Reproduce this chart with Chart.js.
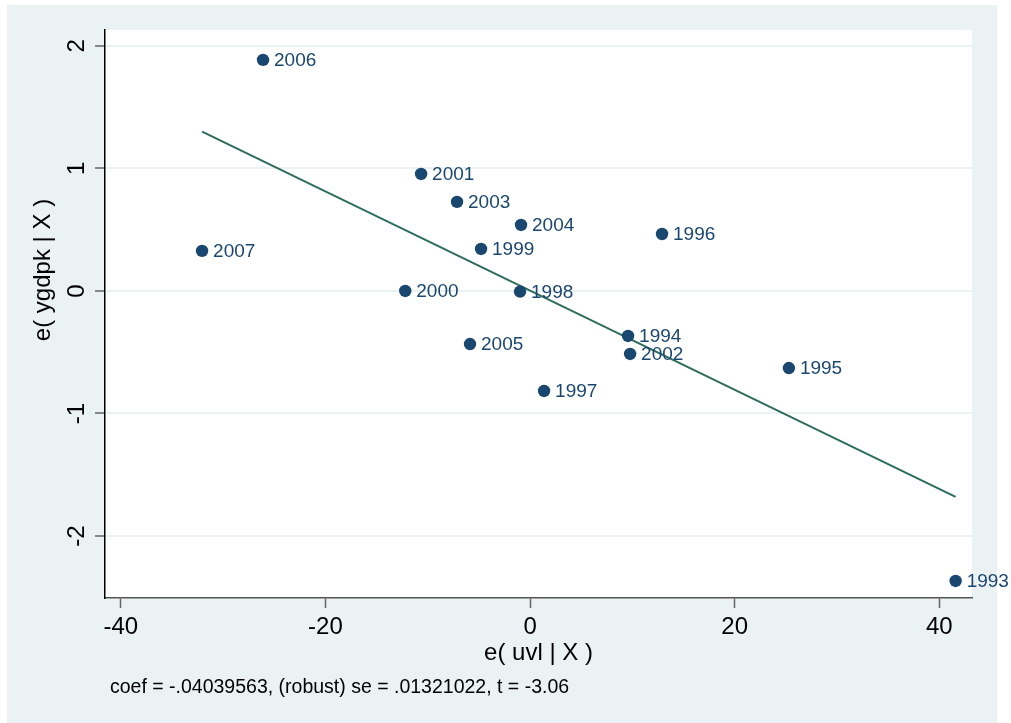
<!DOCTYPE html>
<html><head><meta charset="utf-8">
<script src="https://cdn.jsdelivr.net/npm/chart.js@4.4.1/dist/chart.umd.min.js"></script>
<style>html,body{margin:0;padding:0;background:#fff}#wrap{width:1011px;height:723px}</style>
</head><body><div id="wrap"><canvas id="c" width="1011" height="723"></canvas></div>
<script>
const years = ["2006","2001","2003","2004","1996","2007","1999","2000","1998","1994","2005","2002","1995","1997","1993"];
const xResid = [-26.1,-10.65,-7.14,-0.88,12.9,-32.06,-4.79,-12.2,-0.98,9.58,-5.87,9.78,25.3,1.37,41.6];
const yResid = [1.886,0.955,0.727,0.539,0.465,0.327,0.343,0.0,-0.005,-0.367,-0.433,-0.514,-0.629,-0.816,-2.367];
const fitX = [-32.06, 41.6];
const fitY = [1.30, -1.68];
const xTicks = [-40,-20,0,20,40];
const yTicks = [-2,-1,0,1,2];
const xTitle = "e( uvl | X )";
const yTitle = "e( ygdpk | X )";
const note = "coef = -.04039563, (robust) se = .01321022, t = -3.06";

const FONT = "'Liberation Sans', Arial, sans-serif";
const BG = "#eaf2f3";

const bgPlugin = {
  id:'bg',
  beforeDraw(chart){
    const ctx=chart.ctx, a=chart.chartArea;
    ctx.save();
    ctx.fillStyle='#fff'; ctx.fillRect(0,0,chart.width,chart.height);
    ctx.fillStyle=BG; ctx.fillRect(7,5,990,718);
    ctx.fillStyle='#fff'; ctx.fillRect(a.left,a.top,a.right-a.left,a.bottom-a.top);
    ctx.restore();
  },
  afterDraw(chart){
    const ctx=chart.ctx, ys=chart.scales.y, a=chart.chartArea;
    ctx.save();
    ctx.fillStyle='#000';
    ctx.font="24px "+FONT;
    ctx.textAlign='center'; ctx.textBaseline='middle';
    yTicks.forEach(v=>{
      const py=ys.getPixelForValue(v);
      ctx.save(); ctx.translate(77,py); ctx.rotate(-Math.PI/2); ctx.fillText(String(v),0,0); ctx.restore();
    });
    ctx.font="24px "+FONT;
    ctx.save(); ctx.translate(43,270); ctx.rotate(-Math.PI/2); ctx.fillText(yTitle,0,0); ctx.restore();
    ctx.fillText(xTitle,(a.left+a.right)/2,653);
    ctx.font="19.5px "+FONT; ctx.textAlign='left';
    ctx.fillText(note,110,688);
    ctx.restore();
  }
};

const labelPlugin = {
  id:'lbl',
  afterDatasetsDraw(chart){
    const ctx=chart.ctx, meta=chart.getDatasetMeta(1);
    ctx.save();
    ctx.fillStyle='#1a476f'; ctx.font="19px "+FONT;
    ctx.textAlign='left'; ctx.textBaseline='middle';
    meta.data.forEach((p,i)=>{ ctx.fillText(years[i],p.x+11,p.y+1); });
    ctx.restore();
  }
};

new Chart(document.getElementById('c'),{
  type:'scatter',
  data:{datasets:[
    {type:'line',data:fitX.map((x,i)=>({x,y:fitY[i]})),borderColor:'#2d6d5b',borderWidth:2,pointRadius:0,fill:false,order:1},
    {data:xResid.map((x,i)=>({x,y:yResid[i]})),backgroundColor:'#1a476f',borderColor:'#1a476f',pointRadius:6.2,borderWidth:0,order:0}
  ]},
  options:{
    responsive:false,animation:false,
    layout:{padding:{top:30,right:39,left:0,bottom:0}},
    plugins:{legend:{display:false},tooltip:{enabled:false}},
    scales:{
      x:{type:'linear',min:-41.55,max:43.2,
        afterBuildTicks(s){s.ticks=xTicks.map(v=>({value:v}));},
        afterFit(s){s.height=125;},
        ticks:{color:'#000',font:{size:24,family:FONT},padding:5,maxRotation:0},
        grid:{drawOnChartArea:false,tickLength:10,tickColor:'#666',tickWidth:1.5},
        border:{color:'#555',width:1.5}
      },
      y:{type:'linear',min:-2.506,max:2.13,
        afterBuildTicks(s){s.ticks=yTicks.map(v=>({value:v}));},
        afterFit(s){s.width=105;},
        ticks:{display:false},
        grid:{color:BG,lineWidth:2,tickLength:10,tickColor:'#666',tickWidth:1.5},
        border:{color:'#000',width:1.5}
      }
    }
  },
  plugins:[bgPlugin,labelPlugin]
});
</script></body></html>
